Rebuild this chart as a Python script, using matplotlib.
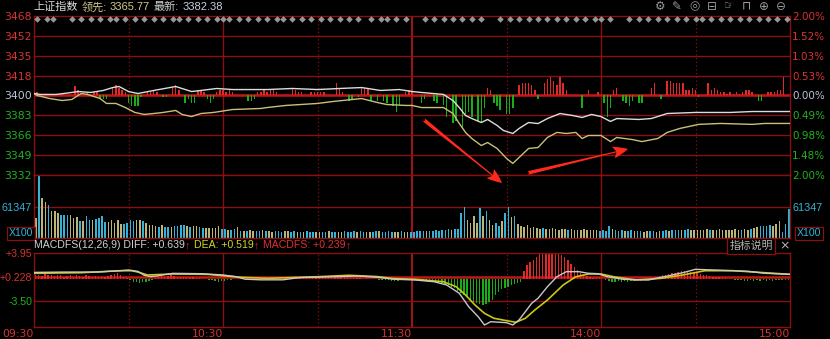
import numpy as np
import matplotlib
matplotlib.use('Agg')
import matplotlib.pyplot as plt
from matplotlib.patches import FancyArrowPatch

plt.rcParams['font.family'] = ['DejaVu Sans', 'Noto Sans CJK SC']

# minutes since 09:30 (lunch break removed), 0..240
# index line (white) and leading index (yellow)
white_t = [0, 2, 7, 12, 14, 18, 22, 25, 27, 30, 33, 38, 45, 50, 53, 58, 63, 70, 74, 82,
           90, 97, 104, 106, 110, 116, 120, 123, 130, 133, 135, 137, 139, 142, 144, 147, 149, 152, 154, 157,
           160, 163, 167, 171, 174, 177, 180, 183, 185, 192, 196, 201, 210, 221, 228, 240]
white_p = [3401.7, 3400.9, 3400.9, 3402.6, 3403.4, 3402.6, 3404.3, 3406.8, 3407.7, 3403.4,
           3401.7, 3404.3, 3407.7, 3403.4, 3404.3, 3406.0, 3405.1, 3405.1, 3405.1, 3406.0,
           3405.1, 3406.0, 3406.8, 3406.0, 3404.3, 3405.1, 3403.4, 3402.6, 3400.9, 3395.7,
           3389.7, 3382.9, 3380.3, 3376.9, 3379.5, 3374.4, 3370.1, 3367.5, 3371.8, 3376.9,
           3376.0, 3380.3, 3384.6, 3382.9, 3381.2, 3383.8, 3382.0, 3377.8, 3380.3, 3379.5,
           3380.3, 3384.6, 3385.5, 3385.5, 3386.3, 3386.3]

yel_t = [0, 1, 5, 9, 12, 14, 15, 17, 21, 23, 26, 29, 32, 35, 38, 41, 45, 47, 50, 53,
         57, 63, 72, 74, 80, 90, 95, 104, 109, 112, 118, 120, 123, 130, 133, 135, 137, 139, 142, 144,
         147, 150, 152, 154, 157, 160, 163, 166, 169, 172, 174, 176, 180, 183, 185, 190, 193, 198, 201, 205,
         211, 218, 228, 232, 240]
yel_p = [3401.7, 3400.0, 3397.4, 3395.7, 3396.6, 3400.0, 3401.7, 3400.9, 3397.4, 3393.2,
         3393.2, 3389.7, 3385.5, 3383.8, 3384.6, 3385.5, 3387.2, 3383.8, 3382.0, 3384.6,
         3385.5, 3388.0, 3388.9, 3389.7, 3391.5, 3393.2, 3394.9, 3397.4, 3394.0, 3392.3,
         3391.5, 3391.5, 3389.7, 3389.7, 3384.6, 3376.1, 3368.4, 3363.2, 3357.2, 3359.8,
         3354.7, 3346.2, 3341.9, 3347.0, 3354.7, 3355.5, 3364.1, 3368.4, 3367.5, 3368.4,
         3363.2, 3365.8, 3365.8, 3360.6, 3364.1, 3362.3, 3360.6, 3363.2, 3368.4, 3371.8,
         3375.3, 3376.1, 3375.3, 3376.1, 3376.1]

# red/green strength bars around the 3400 line
bar_t = [1, 7, 9, 13, 14, 17, 19, 20, 21, 22, 23, 25, 26, 27, 28, 29, 30, 31, 32, 33,
         34, 36, 37, 38, 39, 41, 42, 44, 45, 46, 48, 49, 50, 51, 52, 53, 54, 55, 56, 57,
         58, 59, 60, 61, 62, 63, 68, 69, 70, 71, 72, 73, 74, 75, 76, 77, 82, 83, 84, 85,
         88, 89, 90, 91, 92, 96, 97, 98, 100, 101, 103, 104, 105, 106, 107, 109, 111, 112, 114, 115,
         116, 118, 119, 120,
         123, 124, 127, 128, 130, 131, 133, 134, 136, 137, 138, 139, 141, 142, 143, 144, 145, 146, 147, 148,
         150, 151, 152, 154, 155, 156, 157, 158, 159, 160, 162, 163, 164, 165, 166, 167, 168, 169, 174, 176,
         179, 181, 182, 183, 184, 185, 187, 188, 189, 190, 192, 193, 196, 197, 199, 201, 202, 203, 204, 205,
         206, 207, 208, 209, 210, 211, 214, 215, 216, 217, 218, 219, 220, 221, 222, 223, 224, 225, 226, 227,
         228, 230, 231, 233, 234, 235, 236, 237, 238]
bar_v = [2.6, 1.7, 1.7, 7.7, 4.3, 2.6, 3.4, 2.6, -3.4, -3.4, -2.6, 6.0, 9.4, 6.8, 4.3, 2.6, -6.8, -9.4, -8.6, -8.6,
         -1.7, 2.6, 3.4, 4.3, 2.6, -1.7, -1.7, 6.8, 8.6, 4.3, -6.8, -2.6, -6.0, -6.0, 4.3, 4.3, 3.4, -2.6, -6.0, -3.4,
         3.4, 4.3, 5.1, 3.4, 4.3, 2.6, -4.3, -4.3, -3.4, 2.6, 3.4, 4.3, 2.6, 5.1, 5.1, 3.4, 6.8, 5.1, 3.4, 3.4,
         3.4, 3.4, 2.6, 3.4, 2.6, 10.3, 6.8, 3.4, -4.3, -3.4, -1.7, 6.0, 6.0, 6.0, -4.3, -4.3, -5.1, -6.0, -8.6, -13.7,
         -7.7, 3.4, 4.3, 2.6,
         -6.0, -3.4, -4.3, -6.0, -7.7, -18.8, -23.1, -21.4, -27.4, -15.4, -14.5, -18.8, -21.4, -23.1, -10.3, 6.0, 5.1, -6.8, -8.6, -12.8,
         -15.4, -15.4, -10.3, 8.6, 10.3, 10.3, 10.3, 8.6, 5.1, -2.6, 10.3, 14.5, 15.4, 12.0, 8.6, 15.4, 10.3, 5.1, -11.1, 5.1,
         2.6, -6.8, -18.8, -11.1, 5.1, 6.8, -4.3, -6.0, -8.6, -4.3, -6.8, -6.8, 6.0, 10.3, -2.6, 12.8, 12.8, 10.3, 10.3, 10.3,
         10.3, 5.1, 4.3, 6.8, 4.3, -1.7, 10.3, 5.1, 6.0, 5.1, 3.4, 2.6, 1.7, 2.6, 1.7, 2.6, 1.7, 2.6, 4.3, 5.1,
         3.4, -4.3, -4.3, 2.6, 3.4, 3.4, 4.3, 4.3, 15.4]

# event markers along the top
mark_t = [1, 4, 6, 12, 15, 18, 21, 24, 26, 29, 32, 35, 38, 41, 44, 46, 49, 52, 55, 58,
          60, 62, 65, 68, 71, 74, 77, 79, 82, 85, 88, 91, 94, 97, 100, 103, 107, 110, 112, 115,
          118, 124, 127, 130, 133, 136, 139, 142, 148, 151, 154, 157, 160, 163, 166, 169, 172, 175, 178, 180,
          183, 189, 192, 195, 198, 201, 204, 207, 210, 212, 215, 218, 221, 224, 227, 230, 233, 236, 239]

# volume per minute, thousands (x100 shares)
vol_k = [40, 124, 79, 71, 65, 53, 53, 50, 46, 46,
         46, 46, 40, 42, 33, 33, 44, 36, 36, 38,
         40, 44, 32, 32, 36, 30, 36, 28, 28, 30,
         36, 34, 36, 36, 34, 30, 26, 25, 24, 21,
         26, 22, 22, 22, 24, 24, 26, 26, 24, 22,
         23, 23, 22, 20, 20, 20, 20, 19, 24, 18,
         17, 16, 16, 17, 22, 14, 14, 13, 15, 14,
         14, 13, 15, 14, 14, 12, 13, 14, 12, 13,
         14, 12, 13, 12, 11, 12, 13, 12, 12, 11,
         12, 11, 12, 13, 12, 12, 11, 12, 13, 11,
         12, 13, 12, 14, 12, 12, 11, 12, 13, 14,
         12, 12, 13, 12, 11, 12, 13, 11, 12, 11,
         12, 14, 13, 14, 14, 13, 14, 15, 14, 16,
         15, 17, 16, 18, 18, 50, 61, 36, 30, 43,
         30, 59, 43, 53, 36, 26, 30, 23, 33, 50,
         61, 42, 43, 28, 24, 22, 26, 20, 22, 20,
         18, 19, 17, 18, 19, 17, 16, 17, 18, 16,
         17, 16, 15, 16, 17, 15, 16, 15, 16, 14,
         15, 14, 23, 18, 16, 14, 15, 13, 14, 15,
         13, 14, 13, 12, 13, 14, 13, 12, 14, 13,
         15, 14, 16, 15, 16, 15, 16, 17, 15, 16,
         16, 15, 16, 17, 16, 16, 15, 17, 16, 15,
         16, 16, 17, 16, 15, 17, 16, 18, 20, 22,
         24, 24, 23, 25, 24, 27, 33, 12, 28, 58]
vol_up = ''.join(['ycyycyyycc', 'cyyycyccyc', 'cccyyyyycc', 'ccyycyyyyc', 'yccyccccyc', 'yyccyyyyyc',
                  'cyccycycyy', 'ccycyycccy', 'yccycycccy', 'yccyccyycc', 'ccyccyyccy', 'ccccyycyyc',
                  'ccccyccccc', 'ccyccccyyy', 'ycycyyccyc', 'cycyyyyyyy', 'ycyyyyyyyc', 'yyyyyyyyyc',
                  'cccycccycc', 'yccyyccyyc', 'cycccyccyy', 'yyyycyyyyy', 'yyyycyycyy', 'ccccyyyccc'])

# MACD
dif_t = [0, 10, 20, 27, 30, 33, 35, 37, 39, 44, 53, 60, 64, 67, 72, 79, 84, 95, 103, 109,
         114, 121, 127, 131, 135, 138, 141, 143, 145, 150, 152, 154, 158, 160, 163, 166, 169, 173, 176, 179,
         182, 187, 195, 200, 206, 210, 214, 222, 227, 232, 240]
dif_v = [0.95, 1.0, 1.0, 1.2, 1.32, 1.1, 0.5, 0.3, 0.4, 0.8, 0.75, 0.55, 0.3, -0.1, -0.2, -0.2, 0.13, 0.28, 0.39, 0.2,
         -0.1, -0.23, -0.49, -1.0, -2.28, -4.36, -5.9, -7.19, -6.68, -6.83, -7.19, -6.4, -3.83, -3.06, -1.26, 0.28, 1.06, 1.06, 0.81, 0.75,
         0.28, -0.12, -0.23, 0.28, 0.9, 1.43, 1.35, 1.21, 1.1, 0.81, 0.65]
dea_t = [0, 15, 27, 31, 33, 36, 44, 55, 63, 66, 74, 90, 100, 109, 114, 121, 130, 134, 137, 140,
         143, 146, 150, 153, 156, 159, 163, 168, 172, 176, 180, 184, 191, 199, 206, 213, 222, 232, 240]
dea_v = [0.81, 0.9, 1.2, 1.21, 1.0, 0.55, 0.7, 0.65, 0.3, 0.19, 0.03, 0.28, 0.5, 0.3, 0.0, -0.12, -0.5, -1.26, -2.55, -4.1,
         -5.38, -6.15, -6.52, -6.77, -6.15, -4.87, -3.32, -1.0, 0.28, 0.7, 0.7, 0.28, -0.23, 0.03, 0.55, 1.21, 1.21, 0.9, 0.65]
macd_h = [0.5, 0.6, 0.4, 0.7, 0.5, 0.6, 0.4, 0.5, 0.6, 0.3,
          0.4, 0.5, 0.3, 0.6, 0.4, 0.3, 0.5, 0.4, 0.3, 0.4,
          0.3, 0.2, 0.3, 0.4, 0.5, 0.7, 0.8, 0.6, 0.3, 0.1,
          -0.3, -0.5, -0.6, -0.7, -0.6, -0.5, -0.4, -0.2, 0.1, 0.3,
          0.4, 0.3, 0.4, 0.5, 0.4, 0.3, 0.2, 0.3, 0.2, 0.1,
          0.2, 0.1, 0.1, 0.0, -0.1, -0.2, -0.3, -0.4, -0.5, -0.4,
          -0.4, -0.3, -0.2, -0.1, -0.1, 0.0, -0.1, -0.1, -0.1, 0.0,
          0.0, 0.1, 0.1, 0.2, 0.2, 0.3, 0.2, 0.3, 0.2, 0.2,
          0.1, 0.1, 0.1, 0.1, 0.2, 0.1, 0.2, 0.2, 0.1, 0.2,
          0.1, 0.2, 0.1, 0.2, 0.2, 0.3, 0.2, 0.3, 0.2, 0.2,
          0.1, 0.1, 0.1, 0.1, 0.0, 0.1, 0.0, -0.1, -0.1, -0.2,
          -0.2, -0.3, -0.3, -0.4, -0.4, -0.4, -0.3, -0.3, -0.2, -0.1,
          -0.1, -0.1, -0.2, -0.2, -0.3, -0.3, -0.4, -0.49, -0.6, -0.74,
          -0.9, -1.0, -1.3, -1.51, -2.0, -2.3, -2.55, -2.9, -3.32, -3.6,
          -3.83, -4.0, -4.09, -3.9, -3.7, -3.32, -2.55, -2.1, -1.67, -1.4,
          -1.26, -1.0, -0.9, -0.74, -0.49, 1.21, 2.09, 2.5, 2.87, 3.38,
          3.8, 3.85, 3.9, 3.95, 3.95, 3.95, 3.9, 3.7, 3.38, 2.8,
          2.3, 1.83, 1.3, 0.9, 0.55, 0.35, 0.28, 0.15, 0.1, 0.05,
          -0.1, -0.3, -0.4, -0.5, -0.5, -0.4, -0.5, -0.4, -0.5, -0.4,
          -0.4, -0.3, -0.4, -0.3, -0.2, -0.2, -0.1, 0.3, 0.4, 0.5,
          0.6, 0.7, 0.8, 0.9, 1.0, 1.1, 1.2, 1.1, 1.0, 0.9,
          0.8, 0.7, 0.6, 0.5, 0.4, 0.3, 0.2, 0.2, 0.1, 0.1,
          0.0, -0.1, -0.2, -0.3, -0.3, -0.35, -0.35, -0.3, -0.35, -0.3,
          -0.35, -0.3, -0.35, -0.3, -0.35, -0.3, -0.25, -0.3, -0.25, -0.2]

left_labels = ['3332', '3349', '3366', '3383', '3400', '3418', '3435', '3452', '3468']
pct_labels = ['2.00%', '1.48%', '0.98%', '0.49%', '0.00%', '0.53%', '1.03%', '1.52%', '2.00%']
time_labels = ['09:30', '10:30', '11:30', '14:00', '15:00']

grid_c = '#8a0f0f'
mid_c = '#c41616'
red = '#e02a2a'
green = '#16b016'
lbl_red = '#d83232'
lbl_green = '#1eb41e'
lbl_mid = '#b8c6d6'
cyan = '#36b2d6'
khaki = '#bdb577'

W, H = 830, 339
def fx(x):
    return x / W
def fy(y):
    return 1 - y / H

fig = plt.figure(figsize=(8.3, 3.39), dpi=100, facecolor='black')

def panel(top, bottom):
    ax = fig.add_axes([fx(34), fy(bottom), 756 / W, (bottom - top) / H])
    ax.set_facecolor('black')
    ax.set_xlim(0, 240)
    for s in ax.spines.values():
        s.set_color(grid_c)
        s.set_linewidth(1)
    ax.set_xticks([])
    ax.tick_params(axis='y', length=0, pad=1.5, labelsize=7.8)
    for t in [30, 90, 150, 210]:
        ax.axvline(t, color=grid_c, lw=0.9, ls=(0, (1, 2)))
    for t in [60, 180]:
        ax.axvline(t, color=grid_c, lw=1)
    ax.axvline(120, color='#b01818', lw=1.3)
    return ax

# price panel
ax_p = panel(16, 175)
ax_p.set_ylim(3332, 3468)
levels = np.linspace(3332, 3468, 9)
for lv in levels[1:-1]:
    ax_p.axhline(lv, color=grid_c, lw=1)
ax_p.axhline(3400, color=mid_c, lw=1.8)
ax_p.set_yticks(levels, left_labels)
lcol = [lbl_green] * 4 + [lbl_mid] + [lbl_red] * 4
for lab, c in zip(ax_p.get_yticklabels(), lcol):
    lab.set_color(c)
axr = ax_p.twinx()
axr.set_ylim(3332, 3468)
axr.set_yticks(levels, pct_labels)
axr.tick_params(length=0, pad=1.5, labelsize=7.5)
for s in axr.spines.values():
    s.set_visible(False)
for lab, c in zip(axr.get_yticklabels(), lcol):
    lab.set_color(c)

bcol = [red if v > 0 else green for v in bar_v]
ax_p.bar(bar_t, bar_v, bottom=3400, width=0.45, color=bcol, lw=0, zorder=2)
ax_p.plot(yel_t, yel_p, color='#c8c078', lw=1, zorder=3)
ax_p.plot(white_t, white_p, color='#dcdcdc', lw=1, zorder=3)
ax_p.scatter(mark_t, [0.981] * len(mark_t), transform=ax_p.get_xaxis_transform(),
             marker='D', s=11, color='#969696', lw=0, zorder=4, clip_on=False)

# volume panel
ax_v = panel(175, 238)
ax_v.set_ylim(0, 124700)
ax_v.axhline(61347, color=grid_c, lw=1)
vx = np.arange(len(vol_k)) + 0.6
vcol = [cyan if f == 'c' else khaki for f in vol_up]
ax_v.bar(vx, np.array(vol_k) * 1000, width=0.5, color=vcol, lw=0, zorder=2)
ax_v.set_yticks([61347], ['61347'])
ax_v.tick_params(axis='y', labelright=True, colors=cyan, labelsize=7.8,
                 labelfontfamily='Liberation Sans')
for xx in [21, 809]:
    fig.text(fx(xx), fy(233.5), 'X100', color=cyan, fontsize=7.6, family='Liberation Sans',
             ha='center', va='center',
             bbox=dict(boxstyle='square,pad=0.15', fc='black', ec=grid_c, lw=0.9))

# macd panel
ax_m = panel(253, 327)
ax_m.set_ylim(-7.5, 3.95)
ax_m.axhline(0.228, color=mid_c, lw=1.8)
ax_m.axhline(-3.5, color=grid_c, lw=1)
hx = np.arange(len(macd_h)) + 0.5
hcol = [red if v > 0 else green for v in macd_h]
ax_m.bar(hx, macd_h, width=0.45, color=hcol, lw=0, zorder=2)
ax_m.plot(dea_t, dea_v, color='#c8c814', lw=1.2, zorder=3)
ax_m.plot(dif_t, dif_v, color='#c8c8c8', lw=1, zorder=3)
ax_m.set_yticks([3.95, 0.228, -3.5], ['+3.95', '+0.228', '-3.50'])
ax_m.tick_params(axis='y', labelsize=7.6, labelfontfamily='Liberation Sans')
for lab, c in zip(ax_m.get_yticklabels(), [lbl_red, lbl_red, lbl_green]):
    lab.set_color(c)
ax_m.set_xticks([0, 60, 120, 180, 240], time_labels)
ax_m.tick_params(axis='x', length=0, pad=1.2, labelsize=7.8, colors=lbl_red)
for lab in ax_m.get_xticklabels():
    lab.set_ha('right')

# text rows
def text_row(x, y, parts, size, family):
    r = fig.canvas.get_renderer()
    for s, c, gap in parts:
        t = fig.text(fx(x), fy(y), s, color=c, fontsize=size, family=family, va='center')
        x += t.get_window_extent(r).width + gap

fam = ['Liberation Sans', 'Noto Sans CJK SC']
text_row(33, 7, [('上证指数', '#dcdcdc', 4), ('领先:', '#d2c98c', 3), ('3365.77', '#d2c98c', 4),
                 ('最新:', '#d0d0d0', 3), ('3382.38', '#c4d0de', 0)], 8, fam)
text_row(34, 245.5, [('MACDFS(12,26,9) DIFF: +0.639', '#d0d0d0', 0), ('↑', red, 4),
                     ('DEA: +0.519', '#d4d420', 0), ('↑', red, 4),
                     ('MACDFS: +0.239', '#e03030', 0), ('↑', red, 0)], 7.6, fam)

fig.text(fx(751), fy(246), '指标说明', color='#b4b4b4', fontsize=7.8, family=fam, ha='center', va='center',
         bbox=dict(boxstyle='square,pad=0.25', fc='black', ec=grid_c, lw=0.9))
fig.text(fx(785), fy(246), '×', color='#b4b4b4', fontsize=9, ha='center', va='center')

icons = ['⚙', '✎', '◎', '⊟', '☞', '⊓', '⊕', '⊖']
for i, g in enumerate(icons):
    fig.text(fx(660 + i * 17.3), fy(6), g, color='#9a9a9a', fontsize=8.5, ha='center', va='center')

# red arrows drawn on the screenshot
for a, b in [((424, 120), (502, 183)), ((528, 173), (628, 149))]:
    arr = FancyArrowPatch((fx(a[0]), fy(a[1])), (fx(b[0]), fy(b[1])), transform=fig.transFigure,
                          arrowstyle='fancy,head_length=0.9,head_width=0.7,tail_width=0.22',
                          mutation_scale=12, color='#ff2a1a', lw=0, shrinkA=0, shrinkB=0)
    fig.add_artist(arr)

fig.savefig('out.png', dpi=100, facecolor='black')
